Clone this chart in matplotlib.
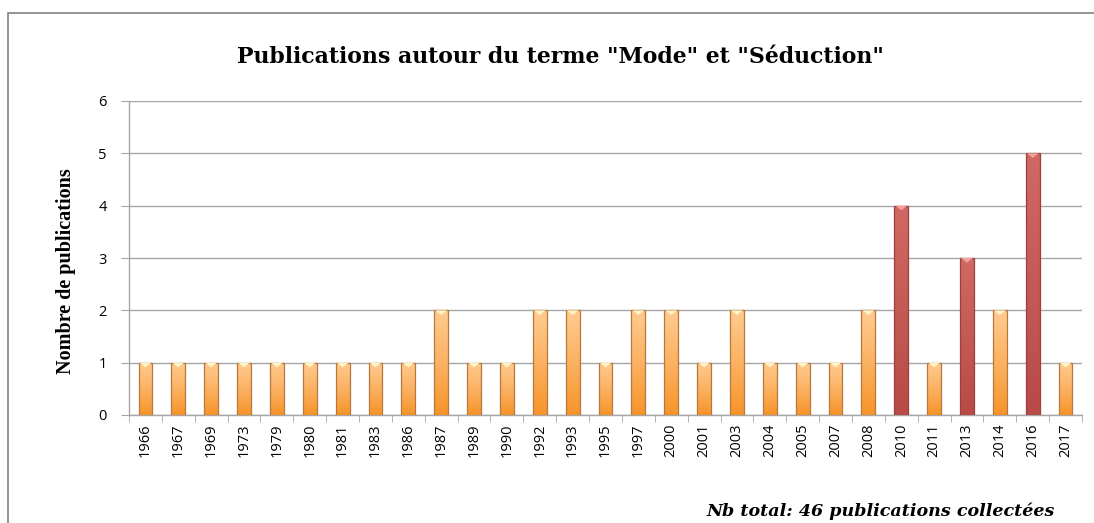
import numpy as np
import matplotlib
matplotlib.use("Agg")
import matplotlib.pyplot as plt
from matplotlib.colors import LinearSegmentedColormap
from matplotlib.patches import Rectangle, Polygon

years = ["1966", "1967", "1969", "1973", "1979", "1980", "1981", "1983", "1986", "1987",
         "1989", "1990", "1992", "1993", "1995", "1997", "2000", "2001", "2003", "2004",
         "2005", "2007", "2008", "2010", "2011", "2013", "2014", "2016", "2017"]
counts = [1, 1, 1, 1, 1, 1, 1, 1, 1, 2,
          1, 1, 2, 2, 1, 2, 2, 1, 2, 1,
          1, 1, 2, 4, 1, 3, 2, 5, 1]
highlight = ["2010", "2013", "2016"]
title = 'Publications autour du terme "Mode" et "Séduction"'
ylabel = "Nombre de publications"
note = "Nb total: 46 publications collectées"

fig = plt.figure(figsize=(10.94, 5.23), dpi=100)
fig.patch.set_facecolor("white")
ax = fig.add_axes([129/1094, 1-415/523, (1082-129)/1094, (415-101)/523])

x = np.arange(len(years))
w = 0.42
orange_cmap = LinearSegmentedColormap.from_list("o", ["#F7942A", "#FBB263", "#FFCB90"])
red_cmap = LinearSegmentedColormap.from_list("r", ["#B84A47", "#C45A56", "#D06864"])

bars = ax.bar(x, counts, width=w, color="none", edgecolor="none", zorder=3)
grad = np.linspace(0, 1, 256).reshape(-1, 1)
for b, yr in zip(bars, years):
    x0, h = b.get_x(), b.get_height()
    cmap = red_cmap if yr in highlight else orange_cmap
    edge = "#9E3F3C" if yr in highlight else "#B9773A"
    cap = "#F2A3A0" if yr in highlight else "#FFF4C8"
    im = ax.imshow(grad, extent=[x0, x0 + w, 0, h], origin="lower", cmap=cmap,
                   aspect="auto", zorder=3, interpolation="bilinear")
    rect = Rectangle((x0, 0), w, h, facecolor="none", edgecolor=edge, lw=0.9, zorder=4)
    ax.add_patch(rect)
    im.set_clip_path(rect)
    tri = Polygon([[x0 + 0.03, h], [x0 + w - 0.03, h], [x0 + w / 2, h - 0.09]],
                  closed=True, facecolor=cap, edgecolor="none", zorder=4)
    ax.add_patch(tri)

ax.set_xlim(-0.5, len(years) - 0.5)
ax.set_ylim(0, 6)
ax.set_yticks(range(0, 7))
ax.yaxis.grid(True, color="#A6A6A6", lw=1, zorder=0)
ax.set_axisbelow(True)
for s in ["top", "right"]:
    ax.spines[s].set_visible(False)
for s in ["left", "bottom"]:
    ax.spines[s].set_color("#A6A6A6")
    ax.spines[s].set_linewidth(1)

ax.set_xticks(x)
ax.set_xticklabels(years, rotation=90, fontsize=10.5, family="Open Sans")
ax.set_xticks(np.arange(-0.5, len(years)), minor=True)
ax.tick_params(axis="x", which="major", length=0, pad=6)
ax.tick_params(axis="x", which="minor", length=5, color="#A6A6A6")
ax.tick_params(axis="y", length=6, color="#A6A6A6", pad=10, labelsize=10.5)
for lab in ax.get_yticklabels():
    lab.set_family("Open Sans")

ax.set_ylabel(ylabel, family="Liberation Serif", fontweight="bold", fontsize=14.5)
ax.yaxis.set_label_coords((76 - 129) / 953, 0.5 - 13 / 314)
fig.text(560/1094, 1-57/523, title, ha="center", va="center",
         family="DejaVu Serif", fontweight="bold", fontsize=15.8)
fig.text(1055/1094, 1-511/523, note, ha="right", va="center",
         family="DejaVu Serif", fontweight="bold", style="italic", fontsize=12.6)

border = Rectangle((8/1094, -0.1), 1.2, 1 - 13/523 + 0.1, transform=fig.transFigure,
                   facecolor="none", edgecolor="#808080", lw=1.2)
fig.patches.append(border)

fig.savefig("out.png", dpi=100, facecolor="white")
